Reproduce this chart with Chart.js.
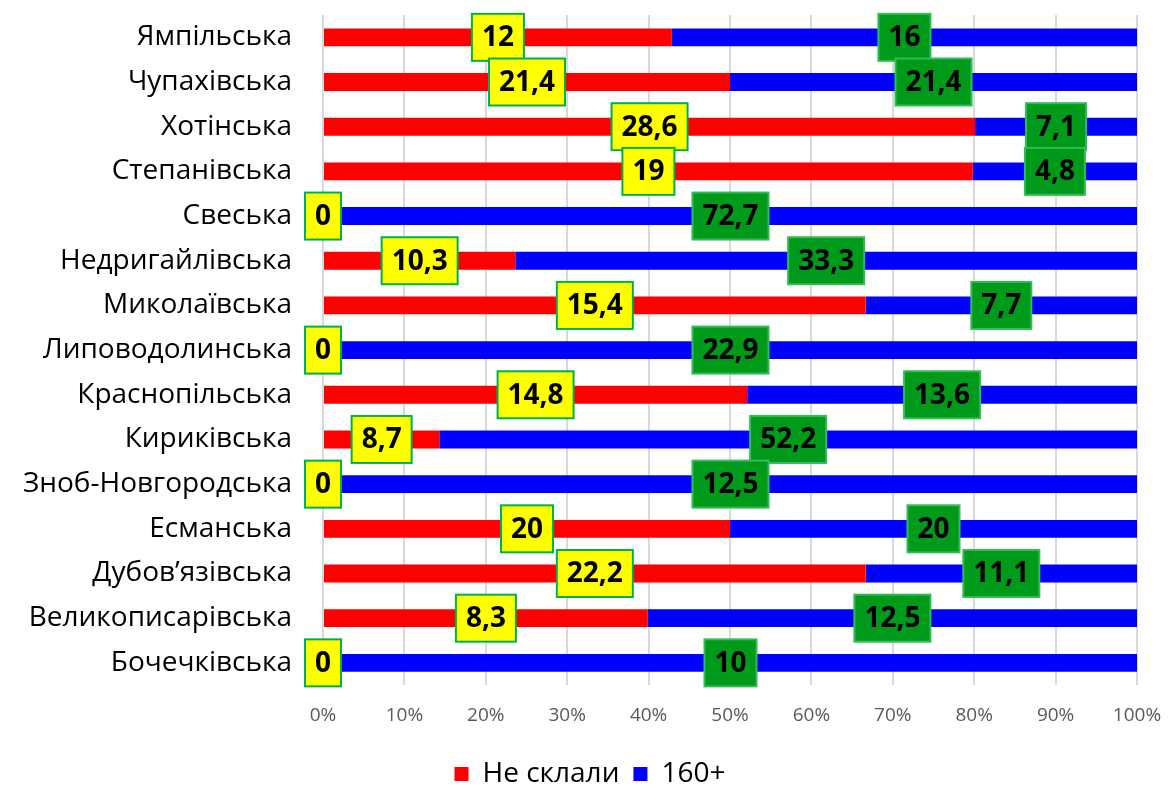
<!DOCTYPE html>
<html>
<head>
<meta charset="utf-8">
<script src="https://cdn.jsdelivr.net/npm/chart.js@4"></script>
<style>
  html, body { margin: 0; padding: 0; background: #fff; }
  #wrap { width: 1170px; height: 787px; }
</style>
</head>
<body>
<div id="wrap"><canvas id="myChart" width="1170" height="787"></canvas></div>
<script>
var categories = ['Ямпільська', 'Чупахівська', 'Хотінська', 'Степанівська', 'Свеська',
    'Недригайлівська', 'Миколаївська', 'Липоводолинська', 'Краснопільська', 'Кириківська',
    'Зноб-Новгородська', 'Есманська', 'Дубов’язівська', 'Великописарівська', 'Бочечківська'];
var failedValues = [12, 21.4, 28.6, 19, 0, 10.3, 15.4, 0, 14.8, 8.7, 0, 20, 22.2, 8.3, 0];
var topValues = [16, 21.4, 7.1, 4.8, 72.7, 33.3, 7.7, 22.9, 13.6, 52.2, 12.5, 20, 11.1, 12.5, 10];
var tickLabels = ['0%', '10%', '20%', '30%', '40%', '50%', '60%', '70%', '80%', '90%', '100%'];
var seriesNames = ['Не склали', '160+'];

// 100% stacked: share of each row
function share(a, b) {
    return a.map(function (v, i) {
        var total = v + b[i];
        return total ? v / total * 100 : 0;
    });
}
var failedShare = share(failedValues, topValues);
var topShare = share(topValues, failedValues);
var rawValues = [failedValues, topValues];

var boxStyles = [
    { fill: '#ffff00', border: '#00b050' },
    { fill: '#009a1a', border: '#33bb55' }
];

var labelBoxes = {
    id: 'labelBoxes',
    afterDatasetsDraw: function (chart) {
        var ctx = chart.ctx;
        ctx.save();
        ctx.font = 'bold 28px "Open Sans"';
        ctx.textAlign = 'center';
        ctx.textBaseline = 'middle';
        chart.data.datasets.forEach(function (ds, di) {
            var meta = chart.getDatasetMeta(di);
            meta.data.forEach(function (bar, i) {
                var p = bar.getProps(['x', 'y', 'base'], true);
                var cx = (p.x + p.base) / 2;
                var text = String(rawValues[di][i]).replace('.', ',');
                var w = ctx.measureText(text).width + 20;
                var h = 47;
                ctx.fillStyle = boxStyles[di].fill;
                ctx.fillRect(cx - w / 2, p.y - h / 2, w, h);
                ctx.lineWidth = 2;
                ctx.strokeStyle = boxStyles[di].border;
                ctx.strokeRect(cx - w / 2, p.y - h / 2, w, h);
                ctx.fillStyle = '#000';
                ctx.fillText(text, cx, p.y + 1);
            });
        });
        ctx.restore();
    }
};

var ctx = document.getElementById('myChart').getContext('2d');
var myChart = new Chart(ctx, {
    type: 'bar',
    data: {
        labels: categories,
        datasets: [{
            label: seriesNames[0],
            data: failedShare,
            backgroundColor: '#ff0000',
            barPercentage: 0.4,
            categoryPercentage: 1
        }, {
            label: seriesNames[1],
            data: topShare,
            backgroundColor: '#0000ff',
            barPercentage: 0.4,
            categoryPercentage: 1
        }]
    },
    options: {
        indexAxis: 'y',
        responsive: false,
        animation: false,
        layout: { padding: { top: 15, right: 0, left: 10, bottom: -11 } },
        scales: {
            x: {
                stacked: true,
                min: 0,
                max: 100,
                grid: { color: '#d9d9d9', lineWidth: 2, drawTicks: false },
                border: { display: false },
                ticks: {
                    stepSize: 10,
                    padding: 19,
                    color: '#595959',
                    font: { family: 'Open Sans', size: 19 },
                    callback: function (v, i) { return tickLabels[i]; }
                },
                afterFit: function (s) {
                    s.paddingRight = 33;
                }
            },
            y: {
                stacked: true,
                grid: { display: false },
                border: { display: false },
                ticks: {
                    padding: 23,
                    color: '#000',
                    font: { family: 'Open Sans', size: 28 }
                },
                afterFit: function (s) {
                    s.width = 313;
                    s.paddingTop = 0;
                    s.paddingBottom = 0;
                }
            }
        },
        plugins: {
            legend: {
                position: 'bottom',
                labels: {
                    boxWidth: 14,
                    boxHeight: 14,
                    padding: 14,
                    color: '#000',
                    font: { family: 'Open Sans', size: 28 }
                }
            },
            tooltip: { enabled: false }
        }
    },
    plugins: [labelBoxes]
});
</script>
</body>
</html>
